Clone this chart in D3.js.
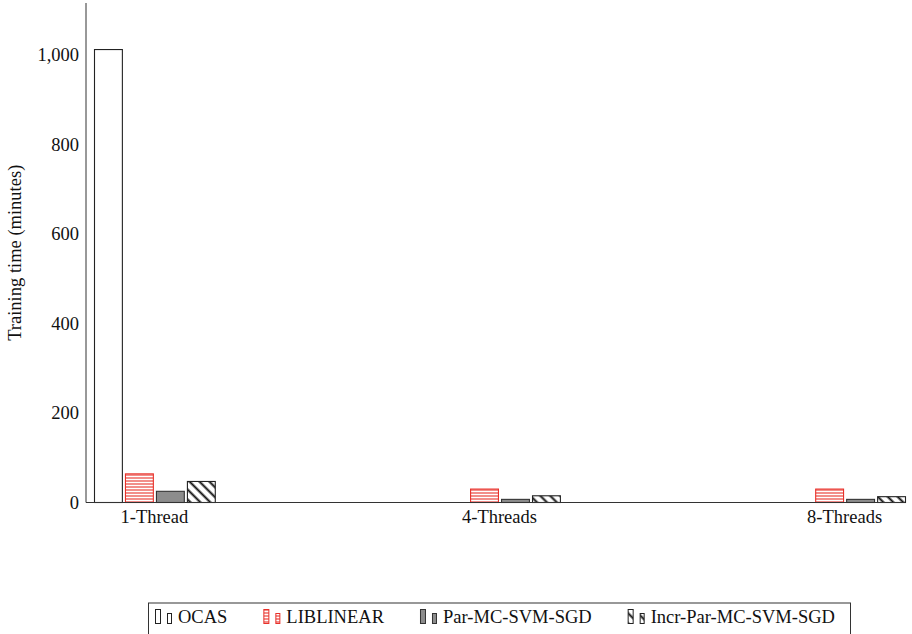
<!DOCTYPE html>
<html>
<head>
<meta charset="utf-8">
<script src="https://cdn.jsdelivr.net/npm/d3@7/dist/d3.min.js"></script>
<style>
  html, body { margin: 0; padding: 0; background: #fff; }
  svg { display: block; font-family: "Liberation Serif", "DejaVu Serif", serif; }
</style>
</head>
<body>
<svg id="chart" width="912" height="634"></svg>
<script>
// Training time (minutes) per solver and thread count
const categories = ["1-Thread", "4-Threads", "8-Threads"];
const seriesNames = ["OCAS", "LIBLINEAR", "Par-MC-SVM-SGD", "Incr-Par-MC-SVM-SGD"];
const ocas = [1012, null, null];
const liblinear = [64, 30, 30];
const parMcSvmSgd = [25, 7, 7];
const incrParMcSvmSgd = [47, 15, 13];
const yTicks = [0, 200, 400, 600, 800, 1000];
const yMax = 1116;

const seriesValues = [ocas, liblinear, parMcSvmSgd, incrParMcSvmSgd];

const svg = d3.select("#chart");
const defs = svg.append("defs");

// Fill patterns
const red = "#e8312a";
const hLines = defs.append("pattern")
  .attr("id", "hlines").attr("patternUnits", "userSpaceOnUse")
  .attr("width", 6).attr("height", 3);
hLines.append("rect").attr("width", 6).attr("height", 3).attr("fill", "#fff");
hLines.append("line").attr("x1", 0).attr("x2", 6).attr("y1", 1).attr("y2", 1)
  .attr("stroke", red).attr("stroke-width", 1.1);

const dLines = defs.append("pattern")
  .attr("id", "dlines").attr("patternUnits", "userSpaceOnUse")
  .attr("width", 7).attr("height", 7)
  .attr("patternTransform", "rotate(45)");
dLines.append("rect").attr("width", 7).attr("height", 7).attr("fill", "#fff");
dLines.append("line").attr("x1", 0).attr("x2", 7).attr("y1", 3.5).attr("y2", 3.5)
  .attr("stroke", "#111").attr("stroke-width", 2);

const styles = [
  { fill: "#fff", stroke: "#222" },
  { fill: "url(#hlines)", stroke: red },
  { fill: "#8c8c8c", stroke: "#333" },
  { fill: "url(#dlines)", stroke: "#222" }
];

const plotLeft = 86, plotRight = 905, plotTop = 3, plotBottom = 502.5;

const y = d3.scaleLinear().domain([0, yMax]).range([plotBottom, plotTop]);
const x0 = d3.scaleBand().domain(categories).range([94, plotRight])
  .paddingInner(0.65).paddingOuter(0);
const x1 = d3.scaleBand().domain(seriesNames).range([0, x0.bandwidth()])
  .paddingInner(0.1).paddingOuter(0);

// Bars
const rows = [];
categories.forEach((c, ci) => {
  seriesNames.forEach((s, si) => {
    const v = seriesValues[si][ci];
    if (v != null && v > 0) rows.push({ c, s, si, v });
  });
});

svg.append("g").selectAll("rect").data(rows).join("rect")
  .attr("x", d => x0(d.c) + x1(d.s) + 0.5)
  .attr("y", d => y(d.v))
  .attr("width", x1.bandwidth())
  .attr("height", d => y(0) - y(d.v))
  .attr("fill", d => styles[d.si].fill)
  .attr("stroke", d => styles[d.si].stroke)
  .attr("stroke-width", 1.1);

// Axes
const axisColor = "#333";
svg.append("line").attr("x1", plotLeft).attr("x2", plotLeft)
  .attr("y1", plotTop).attr("y2", plotBottom)
  .attr("stroke", axisColor).attr("stroke-width", 1);
svg.append("line").attr("x1", plotLeft).attr("x2", plotRight)
  .attr("y1", plotBottom).attr("y2", plotBottom)
  .attr("stroke", axisColor).attr("stroke-width", 1);

const yAxis = svg.append("g").attr("transform", `translate(${plotLeft},0)`)
  .call(d3.axisLeft(y).tickValues(yTicks).tickSize(0).tickPadding(7)
    .tickFormat(d3.format(",")));
yAxis.select(".domain").remove();
yAxis.selectAll("text").attr("font-size", 18.5).attr("fill", "#111")
  .attr("font-family", "Liberation Serif, serif");

const xAxis = svg.append("g").attr("transform", `translate(0,${plotBottom})`)
  .call(d3.axisBottom(x0).tickSize(0).tickPadding(7));
xAxis.select(".domain").remove();
xAxis.selectAll("text").attr("font-size", 18.5).attr("fill", "#111")
  .attr("font-family", "Liberation Serif, serif");

// Y axis title
svg.append("text")
  .attr("transform", `translate(21,${(plotTop + plotBottom) / 2}) rotate(-90)`)
  .attr("text-anchor", "middle")
  .attr("font-size", 18.5).attr("fill", "#111")
  .text("Training time (minutes)");

// Legend
const legend = svg.append("g");
legend.append("rect")
  .attr("x", 148.5).attr("y", 603).attr("width", 702).attr("height", 40)
  .attr("fill", "#fff").attr("stroke", "#333").attr("stroke-width", 1);

let lx = 155;
seriesNames.forEach((name, i) => {
  const g = legend.append("g");
  g.append("rect").attr("x", lx + 0.5).attr("y", 609.5).attr("width", 5).attr("height", 14)
    .attr("fill", styles[i].fill).attr("stroke", styles[i].stroke).attr("stroke-width", 1);
  g.append("rect").attr("x", lx + 12.5).attr("y", 613.5).attr("width", 4).attr("height", 10)
    .attr("fill", styles[i].fill).attr("stroke", styles[i].stroke).attr("stroke-width", 1);
  const t = g.append("text").attr("x", lx + 23).attr("y", 623)
    .attr("font-size", 18.5).attr("fill", "#111").text(name);
  lx += 23 + t.node().getComputedTextLength() + 36;
});
</script>
</body>
</html>
